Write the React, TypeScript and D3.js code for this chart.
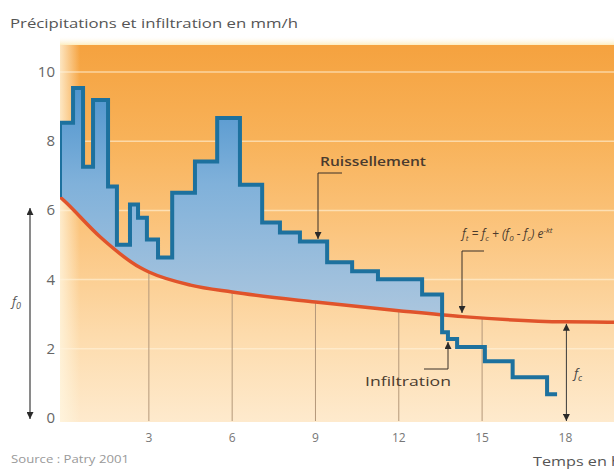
import React from 'react';
import * as d3 from 'd3';

// Tick values
const xTicks = [3, 6, 9, 12, 15, 18];
const yTicks = [0, 2, 4, 6, 8, 10];
const gridValues = [2, 4, 6, 8, 10];
const vGridTicks = [3, 6, 9, 12, 15];

// Rainfall intensity (mm/h) hyetograph: step boundaries (h) and values
const stepBounds = [-0.2, 0.27, 0.63, 0.99, 1.53, 1.85, 2.32, 2.61, 2.93, 3.33, 3.84, 4.66, 5.46, 6.28, 7.08, 7.72, 8.44, 9.42, 10.32, 11.25, 12.84, 13.56, 13.77, 14.1, 15.1, 16.1, 17.34, 17.7];
const stepValues = [8.53, 9.54, 7.26, 9.19, 6.69, 5.01, 6.17, 5.79, 5.16, 4.64, 6.51, 7.41, 8.67, 6.74, 5.65, 5.36, 5.1, 4.5, 4.24, 4.01, 3.57, 2.48, 2.28, 2.05, 1.64, 1.18, 0.69];

// Infiltration capacity curve (Horton)
const curveT = [-0.2, 0, 1.25, 2.7, 3, 4.5, 6, 9, 12, 14.3, 18, 19.75];
const curveF = [6.39, 6.24, 5.23, 4.34, 4.22, 3.84, 3.64, 3.35, 3.1, 2.93, 2.78, 2.77];

const FONT = "'Open Sans', 'Liberation Sans', sans-serif";

export default function App() {
  const W = 614, H = 472;
  const x = d3.scaleLinear().domain([-0.2, 19.75]).range([60, 614]);
  const y = d3.scaleLinear().domain([0, 10]).range([418, 72]);

  const curvePts: [number, number][] = curveT.map((t, i) => [t, curveF[i]]);
  const last = stepValues.length - 1;
  const stepPts: [number, number][] = [
    [stepBounds[0], curveF[0]],
    ...stepValues.map((v, i) => [stepBounds[i], v] as [number, number]),
    [stepBounds[last + 1], stepValues[last]],
  ];

  const stepLine = d3.line<[number, number]>().x(d => x(d[0])).y(d => y(d[1])).curve(d3.curveStepAfter);
  const stepArea = d3.area<[number, number]>().x(d => x(d[0])).y0(y(0)).y1(d => y(d[1])).curve(d3.curveStepAfter);
  const curveLine = d3.line<[number, number]>().x(d => x(d[0])).y(d => y(d[1])).curve(d3.curveMonotoneX);
  const aboveCurve = d3.area<[number, number]>().x(d => x(d[0])).y0(0).y1(d => y(d[1])).curve(d3.curveMonotoneX);
  const belowCurve = d3.area<[number, number]>().x(d => x(d[0])).y0(H).y1(d => y(d[1])).curve(d3.curveMonotoneX);

  const fcVal = curveF[curveT.indexOf(18)];
  const f0Val = curveF[curveT.indexOf(0)];

  return (
    <svg width={W} height={H} style={{ position: 'absolute', left: 0, top: 0, background: '#fff' }}>
      <defs>
        <linearGradient id="bg" x1="0" y1="45" x2="0" y2="422" gradientUnits="userSpaceOnUse">
          <stop offset="0" stopColor="#f5a23f" />
          <stop offset="0.25" stopColor="#f8b259" />
          <stop offset="0.5" stopColor="#fbc57f" />
          <stop offset="0.78" stopColor="#fddcae" />
          <stop offset="1" stopColor="#feeacd" />
        </linearGradient>
        <linearGradient id="leftGlow" x1="60" y1="0" x2="80" y2="0" gradientUnits="userSpaceOnUse">
          <stop offset="0" stopColor="#fff6e0" stopOpacity="0.8" />
          <stop offset="1" stopColor="#fff6e0" stopOpacity="0" />
        </linearGradient>
        <linearGradient id="topBand" x1="0" y1="36" x2="0" y2="46" gradientUnits="userSpaceOnUse">
          <stop offset="0" stopColor="#ffffff" stopOpacity="0" />
          <stop offset="1" stopColor="#fde9b0" />
        </linearGradient>
        <linearGradient id="blue" x1="0" y1="80" x2="0" y2="310" gradientUnits="userSpaceOnUse">
          <stop offset="0" stopColor="#4a92cd" />
          <stop offset="0.45" stopColor="#80b1da" />
          <stop offset="1" stopColor="#a9c5de" />
        </linearGradient>
        <clipPath id="clipAbove"><path d={aboveCurve(curvePts) || ''} /></clipPath>
        <clipPath id="clipBelow"><path d={belowCurve(curvePts) || ''} /></clipPath>
        <clipPath id="plotClip"><rect x={60} y={40} width={554} height={382} /></clipPath>
        <marker id="arrow" viewBox="0 0 10 10" refX="10" refY="5" markerWidth="7" markerHeight="7" markerUnits="userSpaceOnUse" orient="auto-start-reverse">
          <path d="M0,0 L10,5 L0,10 z" fill="#2a2a2a" />
        </marker>
      </defs>

      {/* Title */}
      <text x={10} y={28} fontFamily={FONT} fontSize={13} fill="#555" textLength={288} lengthAdjust="spacingAndGlyphs">Précipitations et infiltration en mm/h</text>

      {/* Plot background */}
      <rect x={60} y={36} width={554} height={10} fill="url(#topBand)" />
      <rect x={60} y={45} width={554} height={377} fill="url(#bg)" />
      <rect x={60} y={45} width={20} height={377} fill="url(#leftGlow)" />

      {/* horizontal grid */}
      {gridValues.map(v => (
        <line key={v} x1={60} x2={614} y1={y(v)} y2={y(v)} stroke="#fff4dc" strokeOpacity={0.6} strokeWidth={1.5} />
      ))}

      {/* vertical tick lines below the infiltration curve */}
      <g clipPath="url(#clipBelow)">
        {vGridTicks.map(t => (
          <line key={t} x1={x(t)} x2={x(t)} y1={y(10)} y2={y(0) + 3} stroke="#b4987a" strokeWidth={1} />
        ))}
      </g>

      <g clipPath="url(#plotClip)">
        {/* runoff area */}
        <path d={stepArea(stepPts) || ''} fill="url(#blue)" clipPath="url(#clipAbove)" />
        {/* infiltration curve */}
        <path d={curveLine(curvePts) || ''} fill="none" stroke="#e0532b" strokeWidth={3.5} />
        {/* hyetograph */}
        <path d={stepLine(stepPts) || ''} fill="none" stroke="#1d719e" strokeWidth={4} strokeLinejoin="miter" />
      </g>

      {/* y tick labels */}
      {yTicks.map(v => (
        <text key={v} x={55} y={y(v) + 5} textAnchor="end" fontFamily={FONT} fontSize={15} fill="#666">{v}</text>
      ))}
      {/* x tick labels */}
      {xTicks.map(t => (
        <text key={t} x={x(t)} y={442} textAnchor="middle" fontFamily={FONT} fontSize={12} fill="#777">{t}</text>
      ))}

      {/* f0 arrow */}
      <line x1={30} x2={30} y1={y(f0Val) + 6} y2={y(0) + 1} stroke="#8a8a8a" strokeWidth={2} markerStart="url(#arrow)" markerEnd="url(#arrow)" />
      <text x={12} y={306} fontFamily={FONT} fontSize={13} fontStyle="italic" fill="#555">f<tspan fontSize={9} dy={3}>0</tspan></text>

      {/* fc arrow */}
      <line x1={x(18) + 1} x2={x(18) + 1} y1={y(fcVal) + 2} y2={y(0) + 3} stroke="#3a3a3a" strokeWidth={1} markerStart="url(#arrow)" markerEnd="url(#arrow)" />
      <text x={574} y={378} fontFamily={FONT} fontSize={13} fontStyle="italic" fill="#444">f<tspan fontSize={9} dy={3}>c</tspan></text>

      {/* Ruissellement */}
      <text x={320} y={166} fontFamily={FONT} fontSize={13} fontWeight={600} fill="#4a3b2e" textLength={106} lengthAdjust="spacingAndGlyphs">Ruissellement</text>
      <path d="M342,173 H318 V239" fill="none" stroke="#3a3028" strokeWidth={1} markerEnd="url(#arrow)" />

      {/* Horton formula */}
      <text x={462} y={238} fontFamily={FONT} fontSize={12} fontStyle="italic" fill="#4a3b2e">
        f<tspan fontSize={8} dy={3}>t</tspan><tspan dy={-3}> = f</tspan><tspan fontSize={8} dy={3}>c</tspan><tspan dy={-3}> + (f</tspan><tspan fontSize={8} dy={3}>0</tspan><tspan dy={-3}> - f</tspan><tspan fontSize={8} dy={3}>c</tspan><tspan dy={-3}>) e</tspan><tspan fontSize={8} dy={-5}>-kt</tspan>
      </text>
      <path d="M484,251 H462 V313" fill="none" stroke="#3a3028" strokeWidth={1} markerEnd="url(#arrow)" />

      {/* Infiltration */}
      <text x={365} y={386} fontFamily={FONT} fontSize={12.5} fill="#4a3b2e" textLength={86} lengthAdjust="spacingAndGlyphs">Infiltration</text>
      <path d="M424,369 H448 V342" fill="none" stroke="#3a3028" strokeWidth={1} markerEnd="url(#arrow)" />

      {/* footer */}
      <text x={11} y={463} fontFamily={FONT} fontSize={10.5} fill="#999" textLength={118} lengthAdjust="spacingAndGlyphs">Source : Patry 2001</text>
      <text x={533} y={466} fontFamily={FONT} fontSize={13} fill="#555" textLength={88} lengthAdjust="spacingAndGlyphs">Temps en h</text>
    </svg>
  );
}
